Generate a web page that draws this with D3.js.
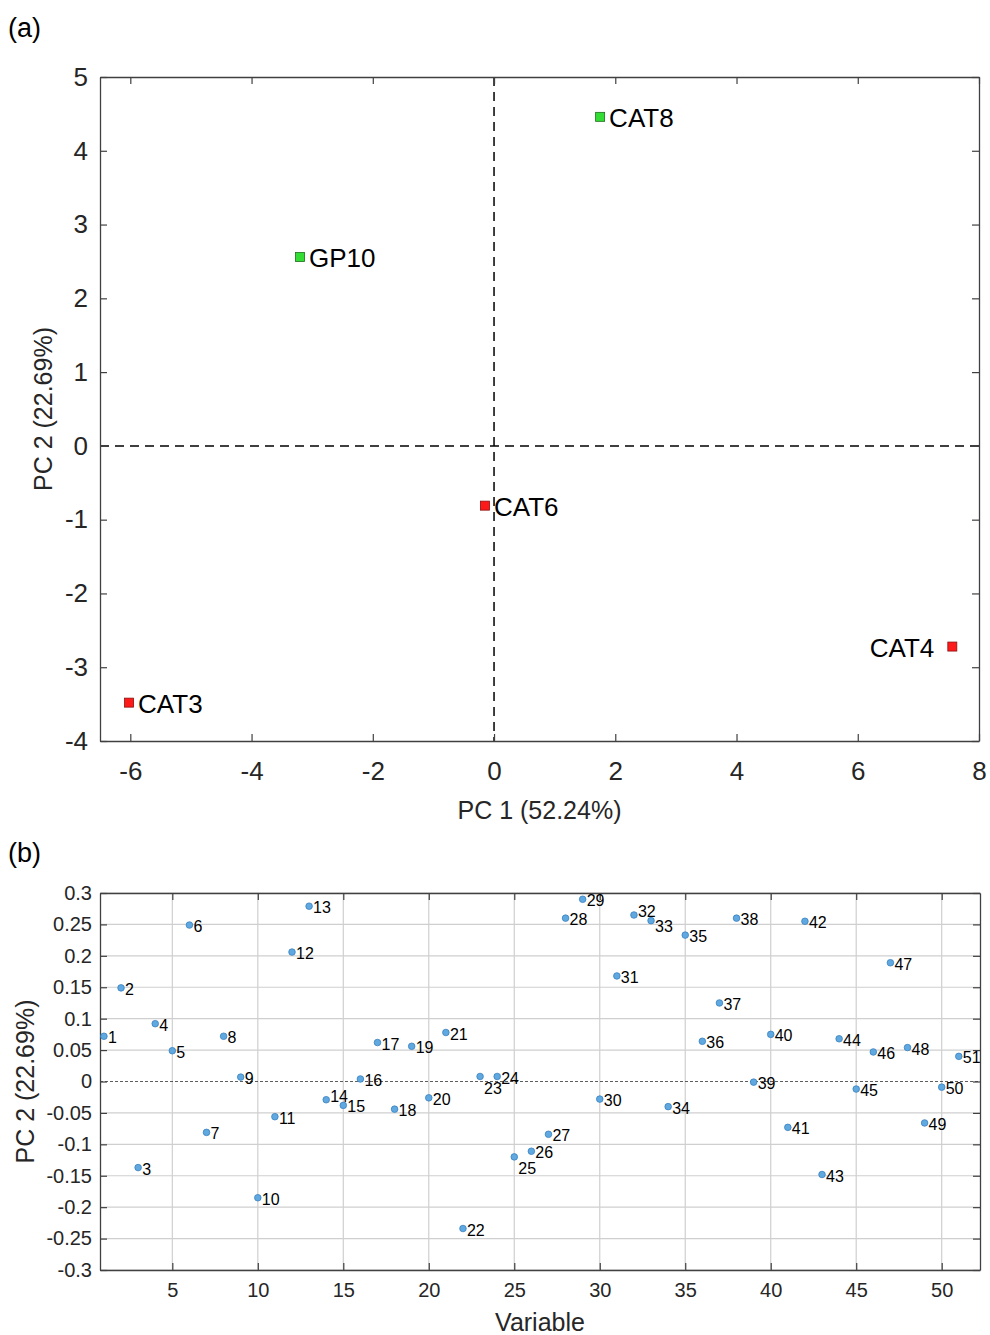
<!DOCTYPE html>
<meta charset='utf-8'>
<style>
  body { margin: 0; background: #fff; }
  svg { font-family: 'Liberation Sans', Arial, sans-serif; }
  .tick text { fill: #262626; }
  .pt-label { fill: #000; }
</style>
<svg width='990' height='1335'></svg>
<script src="https://d3js.org/d3.v7.min.js"></script>
<script>
  // ---- panel (a): scores ----
  var scoreNames = ['CAT8', 'GP10', 'CAT6', 'CAT4', 'CAT3'];
  var scorePC1 = [1.75, -3.2, -0.15, 7.56, -6.02];
  var scorePC2 = [4.46, 2.56, -0.81, -2.72, -3.48];
  var scoreGroup = ['g', 'g', 'r', 'r', 'r'];
  var aXTicks = [-6, -4, -2, 0, 2, 4, 6, 8];
  var aYTicks = [-4, -3, -2, -1, 0, 1, 2, 3, 4, 5];

  // ---- panel (b): PC2 loadings per variable ----
  var varIds = d3.range(1, 52);
  var loadPC2 = [
    0.072, 0.149, -0.137, 0.092, 0.049, 0.249, -0.081, 0.072, 0.007, -0.185,
    -0.056, 0.206, 0.279, -0.029, -0.038, 0.004, 0.062, -0.044, 0.056, -0.026,
    0.078, -0.234, 0.008, 0.008, -0.120, -0.111, -0.084, 0.260, 0.290, -0.028,
    0.168, 0.265, 0.256, -0.040, 0.233, 0.064, 0.125, 0.260, -0.001, 0.075,
    -0.073, 0.255, -0.148, 0.068, -0.012, 0.047, 0.189, 0.054, -0.066, -0.009,
    0.040
  ];
  var bXTicks = [5, 10, 15, 20, 25, 30, 35, 40, 45, 50];
  var bYTicks = d3.range(-6, 7).map(function(i) { return i * 0.05; });
  // a few labels sit a bit off the point (px)
  var labelNudge = { 14: -5, 23: 10, 25: 10, 32: -5, 33: 4 };

  var svg = d3.select('svg');
  var axisColor = '#404040';

  // plain hyphen minus, like the original figure
  function fmt(spec) {
    var f = d3.format(spec);
    return function(v) {
      var s = f(v).replace('\u2212', '-');
      return s === '-0' ? '0' : s;
    };
  }

  function boxAxes(g, x, y, xt, yt, fmtY, fs, padX, padY) {
    var x0 = x.range()[0], x1 = x.range()[1], y0 = y.range()[0], y1 = y.range()[1];
    var tl = 7;
    var bottom = g.append('g').attr('transform', 'translate(0,' + y0 + ')')
      .call(d3.axisBottom(x).tickValues(xt).tickSizeInner(-tl).tickSizeOuter(0).tickPadding(padX).tickFormat(fmt('d')));
    var top = g.append('g').attr('transform', 'translate(0,' + y1 + ')')
      .call(d3.axisTop(x).tickValues(xt).tickSizeInner(-tl).tickSizeOuter(0).tickFormat(''));
    var left = g.append('g').attr('transform', 'translate(' + x0 + ',0)')
      .call(d3.axisLeft(y).tickValues(yt).tickSizeInner(-tl).tickSizeOuter(0).tickPadding(padY).tickFormat(fmtY));
    var right = g.append('g').attr('transform', 'translate(' + x1 + ',0)')
      .call(d3.axisRight(y).tickValues(yt).tickSizeInner(-tl).tickSizeOuter(0).tickFormat(''));
    [bottom, top, left, right].forEach(function(a) {
      a.selectAll('.domain').attr('stroke', axisColor).attr('stroke-width', 1.3);
      a.selectAll('.tick line').attr('stroke', axisColor).attr('stroke-width', 1.2);
      a.selectAll('text').attr('font-size', fs).attr('font-family', null);
    });
    bottom.selectAll('text').attr('dy', '0.71em');
    return { bottom: bottom, left: left };
  }

  // ================= panel (a) =================
  var xa = d3.scaleLinear().domain([-6.5, 8]).range([100, 979]);
  var ya = d3.scaleLinear().domain([-4, 5]).range([741, 77]);
  var ga = svg.append('g');

  ga.append('line').attr('x1', xa(0)).attr('x2', xa(0)).attr('y1', ya(5)).attr('y2', ya(-4))
    .attr('stroke', '#000').attr('stroke-width', 1.5).attr('stroke-dasharray', '9,6');
  ga.append('line').attr('x1', xa(-6.5)).attr('x2', xa(8)).attr('y1', ya(0)).attr('y2', ya(0))
    .attr('stroke', '#000').attr('stroke-width', 1.5).attr('stroke-dasharray', '9,6');

  boxAxes(ga, xa, ya, aXTicks, aYTicks, fmt('d'), 26, 21, 12);

  var scores = scoreNames.map(function(n, i) {
    return { name: n, x: scorePC1[i], y: scorePC2[i], grp: scoreGroup[i] };
  });
  ga.selectAll('.score').data(scores).enter().append('rect')
    .attr('class', 'score')
    .attr('x', function(d) { return xa(d.x) - 4.5; })
    .attr('y', function(d) { return ya(d.y) - 4.5; })
    .attr('width', 9).attr('height', 9)
    .attr('fill', function(d) { return d.grp === 'g' ? '#33dd33' : '#ff1a1a'; })
    .attr('stroke', function(d) { return d.grp === 'g' ? '#1a6e1a' : '#8a0f0f'; })
    .attr('stroke-width', 0.8);
  ga.selectAll('.score-label').data(scores).enter().append('text')
    .attr('class', 'pt-label')
    .attr('x', function(d) { return d.x > 7 ? xa(d.x) - 18 : xa(d.x) + 9; })
    .attr('y', function(d) { return ya(d.y) + 1; })
    .attr('dy', '0.35em')
    .attr('text-anchor', function(d) { return d.x > 7 ? 'end' : 'start'; })
    .attr('font-size', 26)
    .text(function(d) { return d.name; });

  ga.append('text').attr('x', (xa.range()[0] + xa.range()[1]) / 2).attr('y', 819)
    .attr('text-anchor', 'middle').attr('font-size', 25).attr('fill', '#262626')
    .text('PC 1 (52.24%)');
  ga.append('text').attr('transform', 'translate(52,' + ((ya.range()[0] + ya.range()[1]) / 2) + ') rotate(-90)')
    .attr('text-anchor', 'middle').attr('font-size', 25).attr('fill', '#262626')
    .text('PC 2 (22.69%)');
  svg.append('text').attr('x', 8).attr('y', 37).attr('font-size', 27).text('(a)');

  // ================= panel (b) =================
  var xb = d3.scaleLinear().domain([0.77, 52.24]).range([100, 980]);
  var yb = d3.scaleLinear().domain([-0.3, 0.3]).range([1270, 893]);
  var gb = svg.append('g');

  gb.selectAll('.vgrid').data(bXTicks).enter().append('line')
    .attr('x1', function(d) { return xb(d); }).attr('x2', function(d) { return xb(d); })
    .attr('y1', yb(0.3)).attr('y2', yb(-0.3))
    .attr('stroke', '#cfcfcf').attr('stroke-width', 1.2);
  gb.selectAll('.hgrid').data(bYTicks.filter(function(v) { return Math.abs(v) > 1e-9; })).enter().append('line')
    .attr('x1', xb.range()[0]).attr('x2', xb.range()[1])
    .attr('y1', function(d) { return yb(d); }).attr('y2', function(d) { return yb(d); })
    .attr('stroke', '#cfcfcf').attr('stroke-width', 1.2);
  gb.append('line').attr('x1', xb.range()[0]).attr('x2', xb.range()[1]).attr('y1', yb(0)).attr('y2', yb(0))
    .attr('stroke', '#333').attr('stroke-width', 0.8).attr('stroke-dasharray', '3,2');

  boxAxes(gb, xb, yb, bXTicks, bYTicks, fmt('.2~f'), 20, 13, 8);

  var loads = varIds.map(function(id, i) { return { id: id, v: loadPC2[i] }; });
  gb.selectAll('.load').data(loads).enter().append('circle')
    .attr('cx', function(d) { return xb(d.id); })
    .attr('cy', function(d) { return yb(d.v); })
    .attr('r', 3.3)
    .attr('fill', '#5fa8e0').attr('stroke', '#3a82bf').attr('stroke-width', 0.8);
  gb.selectAll('.load-label').data(loads).enter().append('text')
    .attr('class', 'pt-label')
    .attr('x', function(d) { return xb(d.id) + 4; })
    .attr('y', function(d) { return yb(d.v) + 1.5 + (labelNudge[d.id] || 0); })
    .attr('dy', '0.35em')
    .attr('font-size', 16)
    .text(function(d) { return d.id; });

  gb.append('text').attr('x', (xb.range()[0] + xb.range()[1]) / 2).attr('y', 1331)
    .attr('text-anchor', 'middle').attr('font-size', 25).attr('fill', '#262626')
    .text('Variable');
  gb.append('text').attr('transform', 'translate(34,' + ((yb.range()[0] + yb.range()[1]) / 2) + ') rotate(-90)')
    .attr('text-anchor', 'middle').attr('font-size', 25).attr('fill', '#262626')
    .text('PC 2 (22.69%)');
  svg.append('text').attr('x', 8).attr('y', 862).attr('font-size', 27).text('(b)');
</script>
